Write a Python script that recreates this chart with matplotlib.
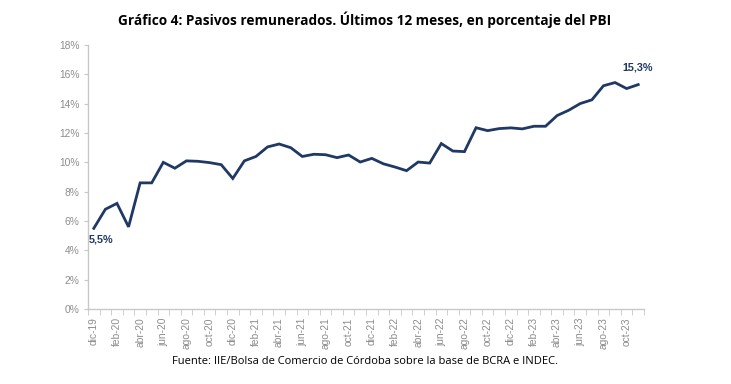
import numpy as np
import matplotlib.pyplot as plt

# Monthly data, dic-19 to nov-23 (% of GDP)
months = ["dic-19", "ene-20", "feb-20", "mar-20", "abr-20", "may-20", "jun-20", "jul-20",
          "ago-20", "sep-20", "oct-20", "nov-20", "dic-20", "ene-21", "feb-21", "mar-21",
          "abr-21", "may-21", "jun-21", "jul-21", "ago-21", "sep-21", "oct-21", "nov-21",
          "dic-21", "ene-22", "feb-22", "mar-22", "abr-22", "may-22", "jun-22", "jul-22",
          "ago-22", "sep-22", "oct-22", "nov-22", "dic-22", "ene-23", "feb-23", "mar-23",
          "abr-23", "may-23", "jun-23", "jul-23", "ago-23", "sep-23", "oct-23", "nov-23"]
values = [5.5, 6.8, 7.2, 5.6, 8.6, 8.6, 10.0, 9.6,
          10.1, 10.07, 9.98, 9.84, 8.9, 10.1, 10.4, 11.05,
          11.25, 11.0, 10.4, 10.55, 10.52, 10.32, 10.5, 10.02,
          10.27, 9.9, 9.68, 9.43, 10.02, 9.95, 11.28, 10.77,
          10.73, 12.36, 12.16, 12.3, 12.35, 12.28, 12.46, 12.46,
          13.19, 13.55, 14.01, 14.26, 15.22, 15.44, 15.03, 15.3]

navy = "#1F3864"
grey = "#8C8C8C"
axis_grey = "#C8C8C8"

fig = plt.figure(figsize=(7.31, 3.84), dpi=100)
ax = fig.add_axes([88 / 731, 1 - 309 / 384, (644 - 88) / 731, (309 - 45) / 384])

x = np.arange(len(values))
ax.plot(x, values, color=navy, linewidth=2.0, solid_joinstyle="miter")

ax.set_xlim(-0.5, len(values) - 0.5)
ax.set_ylim(0, 18)
ax.set_yticks(np.arange(0, 19, 2))
ax.set_yticklabels([f"{v}%" for v in range(0, 19, 2)])

ax.set_xticks(x[::2])
ax.set_xticklabels(months[::2], rotation=90)
ax.set_xticks(np.arange(-0.5, len(values), 1), minor=True)
ax.tick_params(axis="x", which="major", length=0, pad=6, labelsize=7.4, labelcolor=grey)
ax.tick_params(axis="x", which="minor", length=4, color=axis_grey, direction="out")
ax.tick_params(axis="y", length=3, color=axis_grey, labelsize=7.4, labelcolor=grey, pad=3)

for s in ["top", "right"]:
    ax.spines[s].set_visible(False)
for s in ["left", "bottom"]:
    ax.spines[s].set_color(axis_grey)
    ax.spines[s].set_linewidth(1.0)

for lab in ax.get_xticklabels() + ax.get_yticklabels():
    lab.set_fontfamily("Liberation Sans")

ax.annotate("5,5%", (0, values[0]), xytext=(0.6, 4.75), color=navy, fontsize=7.8,
            fontweight="bold", ha="center", va="center", family="Liberation Sans")
ax.annotate("15,3%", (47, values[-1]), xytext=(46.95, 16.5), color=navy, fontsize=7.8,
            fontweight="bold", ha="center", va="center", family="Liberation Sans")

fig.text(365 / 731, 1 - 20 / 384, "Gráfico 4: Pasivos remunerados. Últimos 12 meses, en porcentaje del PBI",
         ha="center", va="center", fontsize=9.8, fontweight="bold", family="Open Sans")
fig.text(365 / 731, 1 - 362 / 384, "Fuente: IIE/Bolsa de Comercio de Córdoba sobre la base de BCRA e INDEC.",
         ha="center", va="center", fontsize=8.0, family="Open Sans")

fig.savefig("out.png", dpi=100)
